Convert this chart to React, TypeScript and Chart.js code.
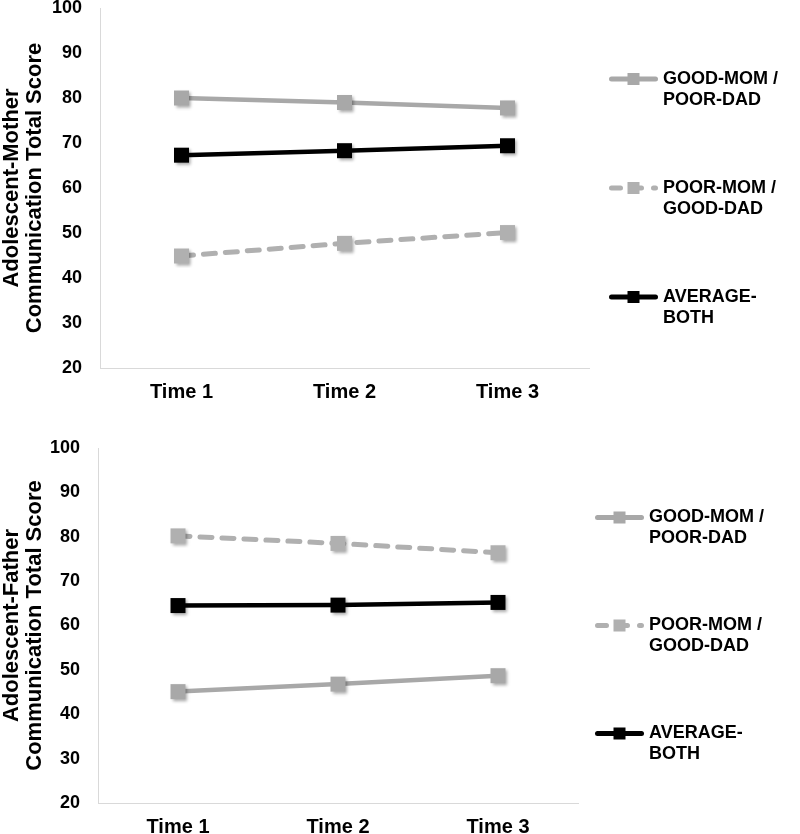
import React, { useEffect, useRef } from 'react';
import { Chart, registerables } from 'chart.js';

Chart.register(...registerables);

// ---------- data ----------
const timeLabels = ['Time 1', 'Time 2', 'Time 3'];
const seriesLabels = ['GOOD-MOM / POOR-DAD', 'POOR-MOM / GOOD-DAD', 'AVERAGE-BOTH'];
const legendLines = [
  ['GOOD-MOM /', 'POOR-DAD'],
  ['POOR-MOM /', 'GOOD-DAD'],
  ['AVERAGE-', 'BOTH'],
];
const yMin = 20;
const yMax = 100;
const yStep = 10;

const motherGoodMomPoorDad = [80.0, 79.0, 77.8];
const motherPoorMomGoodDad = [44.9, 47.7, 50.1];
const motherAverageBoth = [67.3, 68.3, 69.4];

const fatherGoodMomPoorDad = [45.1, 46.8, 48.7];
const fatherPoorMomGoodDad = [80.2, 78.5, 76.4];
const fatherAverageBoth = [64.5, 64.6, 65.2];

const motherTitle = ['Adolescent-Mother', 'Communication Total Score'];
const fatherTitle = ['Adolescent-Father', 'Communication Total Score'];

// ---------- styles ----------
const FONT = '"Liberation Sans", Arial, Helvetica, sans-serif';
const GREY = '#a8a8a8';
const GREY_DASH = '#b0b0b0';
const BLACK = '#000000';
const AXIS = '#d9d9d9';

function makeMarker(color: string, size = 15): HTMLCanvasElement {
  const pad = 5;
  const c = document.createElement('canvas');
  c.width = size + pad * 2;
  c.height = size + pad * 2;
  const g = c.getContext('2d')!;
  g.shadowColor = 'rgba(0,0,0,0.35)';
  g.shadowBlur = 3;
  g.shadowOffsetX = 1.5;
  g.shadowOffsetY = 2;
  g.fillStyle = color;
  g.fillRect(pad, pad, size, size);
  return c;
}

const sideLegend = {
  id: 'sideLegend',
  afterDraw(chart: any, _args: any, opts: any) {
    const { ctx, chartArea } = chart;
    const mid = (chartArea.top + chartArea.bottom) / 2;
    chart.data.datasets.forEach((ds: any, i: number) => {
      const y = mid + (i - 1) * opts.spacing;
      const x0 = chartArea.right + opts.offset;
      const x1 = x0 + 49;
      ctx.save();
      ctx.strokeStyle = ds.borderColor;
      ctx.lineWidth = 5;
      ctx.lineCap = 'round';
      ctx.setLineDash(ds.borderDash ? [9, 12] : []);
      ctx.beginPath();
      ctx.moveTo(x0 + 2.5, y);
      ctx.lineTo(x1 - 2.5, y);
      ctx.stroke();
      ctx.setLineDash([]);
      ctx.fillStyle = ds.borderColor;
      ctx.fillRect((x0 + x1) / 2 - 6, y - 6, 12, 12);
      ctx.fillStyle = '#000';
      ctx.font = `bold 18px ${FONT}`;
      ctx.textBaseline = 'middle';
      ctx.textAlign = 'left';
      const lines = legendLines[i];
      lines.forEach((t: string, k: number) => {
        ctx.fillText(t, x1 + 5, y + k * 21);
      });
      ctx.restore();
    });
  },
};

interface PanelProps {
  height: number;
  padTop: number;
  padRight: number;
  yWidth: number;
  xHeight: number;
  title: string[];
  solid: number[];
  dashed: number[];
  avg: number[];
  legendOffset: number;
  legendSpacing: number;
}

function Panel(p: PanelProps) {
  const ref = useRef<HTMLCanvasElement | null>(null);
  useEffect(() => {
    if (!ref.current) return;
    const greyMarker = makeMarker(GREY);
    const greyDashMarker = makeMarker(GREY_DASH);
    const blackMarker = makeMarker(BLACK);
    const chart = new Chart(ref.current, {
      type: 'line',
      data: {
        labels: timeLabels,
        datasets: [
          {
            label: seriesLabels[0],
            data: p.solid,
            borderColor: GREY,
            backgroundColor: GREY,
            borderWidth: 4.5,
            pointStyle: greyMarker as any,
            pointRadius: 8,
            pointHoverRadius: 8,
          },
          {
            label: seriesLabels[1],
            data: p.dashed,
            borderColor: GREY_DASH,
            backgroundColor: GREY_DASH,
            borderWidth: 5,
            borderDash: [12, 10],
            borderCapStyle: 'round',
            pointStyle: greyDashMarker as any,
            pointRadius: 8,
            pointHoverRadius: 8,
          },
          {
            label: seriesLabels[2],
            data: p.avg,
            borderColor: BLACK,
            backgroundColor: BLACK,
            borderWidth: 4.5,
            pointStyle: blackMarker as any,
            pointRadius: 8,
            pointHoverRadius: 8,
          },
        ],
      },
      options: {
        animation: false,
        responsive: true,
        maintainAspectRatio: false,
        layout: { autoPadding: false, padding: { left: 0, top: p.padTop, right: p.padRight, bottom: 0 } },
        plugins: {
          legend: { display: false },
          tooltip: { enabled: false },
          sideLegend: { offset: p.legendOffset, spacing: p.legendSpacing },
        } as any,
        scales: {
          x: {
            offset: true,
            grid: { display: false, drawTicks: false },
            border: { display: true, color: AXIS, width: 1 },
            ticks: { color: '#000', font: { family: FONT, size: 20, weight: 'bold' }, padding: 12, maxRotation: 0 },
            afterFit: (s: any) => {
              s.height = p.xHeight;
              s.paddingLeft = 0;
              s.paddingRight = 0;
            },
          },
          y: {
            min: yMin,
            max: yMax,
            grid: { display: false, drawTicks: false },
            border: { display: true, color: AXIS, width: 1 },
            ticks: {
              stepSize: yStep,
              color: '#000',
              font: { family: FONT, size: 18, weight: 'bold', lineHeight: 0.8 },
              padding: 18,
            },
            title: {
              display: true,
              text: p.title,
              color: '#000',
              font: { family: FONT, size: 22, weight: 'bold', lineHeight: 1.05 },
              padding: { top: 0, bottom: 0 },
            },
            afterFit: (s: any) => {
              s.width = p.yWidth;
              s.paddingTop = 0;
              s.paddingBottom = 0;
            },
          },
        },
      },
      plugins: [sideLegend],
    } as any);
    return () => chart.destroy();
  }, []);
  return (
    <div style={{ position: 'relative', width: 800, height: p.height }}>
      <canvas ref={ref} />
    </div>
  );
}

export default function App() {
  return (
    <div style={{ position: 'absolute', left: 0, top: 0, width: 800, height: 834, background: '#fff' }}>
      <Panel
        height={410}
        padTop={8}
        padRight={211}
        yWidth={100}
        xHeight={42}
        title={motherTitle}
        solid={motherGoodMomPoorDad}
        dashed={motherPoorMomGoodDad}
        avg={motherAverageBoth}
        legendOffset={20}
        legendSpacing={109}
      />
      <Panel
        height={424}
        padTop={38}
        padRight={222}
        yWidth={98}
        xHeight={31}
        title={fatherTitle}
        solid={fatherGoodMomPoorDad}
        dashed={fatherPoorMomGoodDad}
        avg={fatherAverageBoth}
        legendOffset={17}
        legendSpacing={108}
      />
    </div>
  );
}
